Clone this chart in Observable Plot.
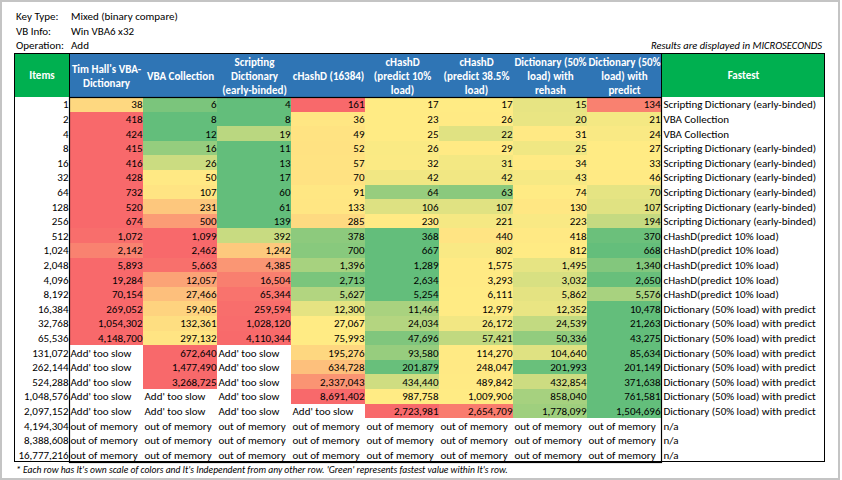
<!DOCTYPE html>
<html>
<head>
<meta charset="utf-8">
<script src="https://cdn.jsdelivr.net/npm/d3@7"></script>
<script src="https://cdn.jsdelivr.net/npm/@observablehq/plot@0.6"></script>
<style>
  html, body { margin: 0; padding: 0; background: #fff; }
  #page { position: relative; width: 842px; height: 480px; overflow: hidden;
          font-family: Carlito, Calibri, "Liberation Sans Narrow", "DejaVu Sans Condensed", Roboto, sans-serif; font-size: 11px; color: #000; }
  #outer { position: absolute; left: 0; top: 0; width: 840px; height: 480px; box-sizing: border-box; border: 2px solid #c4c4c4; }
  .info { position: absolute; left: 16px; top: 10px; line-height: 14.5px; }
  .info div span { display: inline-block; width: 55px; }
  #units { position: absolute; right: 20px; top: 39px; font-style: italic; font-size: 10.5px; }
  #table { position: absolute; left: 14px; top: 53px; width: 811px; }
  #table svg { display: block; }
  #border { position: absolute; left: 14px; top: 53px; width: 811px; height: 409px; box-sizing: border-box; border: 1.5px solid #000; pointer-events: none; }
  #note { position: absolute; left: 16px; top: 464px; font-style: italic; font-size: 9.6px; }
</style>
</head>
<body>
<div id="page">
  <div id="outer"></div>
  <div class="info">
    <div><span>Key Type:</span>Mixed (binary compare)</div>
    <div><span>VB Info:</span>Win VBA6 x32</div>
    <div><span>Operation:</span>Add</div>
  </div>
  <div id="units">Results are displayed in MICROSECONDS</div>
  <div id="table"></div>
  <div id="border"></div>
  <div id="note">* Each row has It's own scale of colors and It's Independent from any other row. 'Green' represents fastest value within It's row.</div>
</div>
<script>
// ---- data ----
const items = [1, 2, 4, 8, 16, 32, 64, 128, 256, 512, 1024, 2048, 4096, 8192, 16384, 32768, 65536,
  131072, 262144, 524288, 1048576, 2097152, 4194304, 8388608, 16777216];

const columns = ["Tim Hall's VBA-\nDictionary", "VBA Collection", "Scripting\nDictionary\n(early-binded)",
  "cHashD (16384)", "cHashD\n(predict 10%\nload)", "cHashD\n(predict 38.5%\nload)",
  "Dictionary (50%\nload) with\nrehash", "Dictionary (50%\nload) with\npredict"];

const S = "Add' too slow", M = "out of memory";

const timHall = [38, 418, 424, 415, 416, 428, 732, 520, 674, 1072, 2142, 5893, 19284, 70154, 269052, 1054302, 4148700, S, S, S, S, S, M, M, M];
const vbaCollection = [6, 8, 12, 16, 26, 50, 107, 231, 500, 1099, 2462, 5663, 12057, 27466, 59405, 132361, 297132, 672640, 1477490, 3268725, S, S, M, M, M];
const scriptingDict = [4, 8, 19, 11, 13, 17, 60, 61, 139, 392, 1242, 4385, 16504, 65344, 259594, 1028120, 4110344, S, S, S, S, S, M, M, M];
const cHashD16384 = [161, 36, 49, 52, 57, 70, 91, 133, 285, 378, 700, 1396, 2713, 5627, 12300, 27067, 75993, 195276, 634728, 2337043, 8691402, S, M, M, M];
const cHashD10 = [17, 23, 25, 26, 32, 42, 64, 106, 230, 368, 667, 1289, 2634, 5254, 11464, 24034, 47696, 93580, 201879, 434440, 987758, 2723981, M, M, M];
const cHashD385 = [17, 26, 22, 29, 31, 42, 63, 107, 221, 440, 802, 1575, 3293, 6111, 12979, 26172, 57421, 114270, 248047, 489842, 1009906, 2654709, M, M, M];
const dictRehash = [15, 20, 31, 25, 34, 43, 74, 130, 223, 418, 812, 1495, 3032, 5862, 12352, 24539, 50336, 104640, 201993, 432854, 858040, 1778099, M, M, M];
const dictPredict = [134, 21, 24, 27, 33, 46, 70, 107, 194, 370, 668, 1340, 2650, 5576, 10478, 21263, 43275, 85634, 201149, 371638, 761581, 1504696, M, M, M];

const fastest = ["Scripting Dictionary (early-binded)", "VBA Collection", "VBA Collection",
  "Scripting Dictionary (early-binded)", "Scripting Dictionary (early-binded)", "Scripting Dictionary (early-binded)",
  "Scripting Dictionary (early-binded)", "Scripting Dictionary (early-binded)", "Scripting Dictionary (early-binded)",
  "cHashD(predict 10% load)", "cHashD(predict 10% load)", "cHashD(predict 10% load)", "cHashD(predict 10% load)", "cHashD(predict 10% load)",
  "Dictionary (50% load) with predict", "Dictionary (50% load) with predict", "Dictionary (50% load) with predict",
  "Dictionary (50% load) with predict", "Dictionary (50% load) with predict", "Dictionary (50% load) with predict",
  "Dictionary (50% load) with predict", "Dictionary (50% load) with predict", "n/a", "n/a", "n/a"];

// ---- build table ----
const series = [timHall, vbaCollection, scriptingDict, cHashD16384, cHashD10, cHashD385, dictRehash, dictPredict];
const fmt = d3.format(",");
const rowLabels = items.map(fmt);
const fastestOf = new Map(rowLabels.map((r, i) => [r, fastest[i]]));

// Excel-style 3-colour scale per row: lowest = green, 50th percentile = yellow, highest = red
const cells = [];
items.forEach((it, i) => {
  const vals = series.map(s => s[i]).filter(v => typeof v === "number");
  const lo = d3.min(vals), mid = d3.median(vals), hi = d3.max(vals);
  series.forEach((s, j) => {
    const v = s[i];
    if (typeof v === "number") {
      const t = v <= mid ? (mid === lo ? 0 : (v - mid) / (mid - lo)) : (hi === mid ? 0 : (v - mid) / (hi - mid));
      cells.push({row: rowLabels[i], col: columns[j], value: v, t, num: true});
    } else {
      cells.push({row: rowLabels[i], col: columns[j], label: v, num: false});
    }
  });
});
const numCells = cells.filter(d => d.num);
const txtCells = cells.filter(d => !d.num);

const W = 811, ML = 55, MR = 164;
const band = (W - ML - MR) / columns.length;
const font = 'Carlito, Calibri, "Liberation Sans Narrow", "DejaVu Sans Condensed", Roboto, sans-serif';

const header = Plot.plot({
  width: W, height: 44, marginLeft: ML, marginRight: MR, marginTop: 0, marginBottom: 0,
  style: {background: "#00B050", fontFamily: font, fontSize: "11px", overflow: "visible"},
  x: {domain: columns, padding: 0, round: false, axis: null},
  marks: [
    Plot.cell(columns, {x: d => d, fill: "#2F75B5"}),
    Plot.text(columns, {x: d => d, text: d => d, fill: "white", fontWeight: "bold", lineHeight: 1.27, fontSize: 11}),
    Plot.text(["Items"], {frameAnchor: "left", dx: -ML / 2, text: d => d, fill: "white", fontWeight: "bold", textAnchor: "middle", fontSize: 11}),
    Plot.text(["Fastest"], {frameAnchor: "right", dx: MR / 2, text: d => d, fill: "white", fontWeight: "bold", textAnchor: "middle", fontSize: 11}),
    Plot.frame({stroke: "#000", strokeWidth: 1})
  ]
});

const body = Plot.plot({
  width: W, height: 365, marginLeft: ML, marginRight: MR, marginTop: 0, marginBottom: 0,
  style: {fontFamily: font, fontSize: "11px", background: "white", overflow: "visible"},
  x: {domain: columns, padding: 0, round: false, axis: null},
  y: {domain: rowLabels, padding: 0, round: false, axis: null},
  color: {type: "linear", domain: [-1, 0, 1], range: ["#63BE7B", "#FFEB84", "#F8696B"], interpolate: "rgb"},
  marks: [
    Plot.cell(numCells, {x: "col", y: "row", fill: "t", shapeRendering: "crispEdges"}),
    Plot.text(numCells, {x: "col", y: "row", text: d => fmt(d.value), textAnchor: "end", dx: band / 2 - 1, fill: "#000", fontSize: 11}),
    Plot.text(txtCells, {x: "col", y: "row", text: "label", textAnchor: "start", dx: -band / 2 + 1, fill: "#000", fontSize: 11}),
    Plot.axisY({anchor: "left", tickSize: 0, tickPadding: 1, label: null, fontSize: 11}),
    Plot.axisY({anchor: "right", tickSize: 0, tickPadding: 2, label: null, tickFormat: r => fastestOf.get(r), fontSize: 11}),
    Plot.frame({stroke: "#000", strokeWidth: 1.2})
  ]
});

const table = document.getElementById("table");
table.appendChild(header);
table.appendChild(body);
</script>
</body>
</html>
